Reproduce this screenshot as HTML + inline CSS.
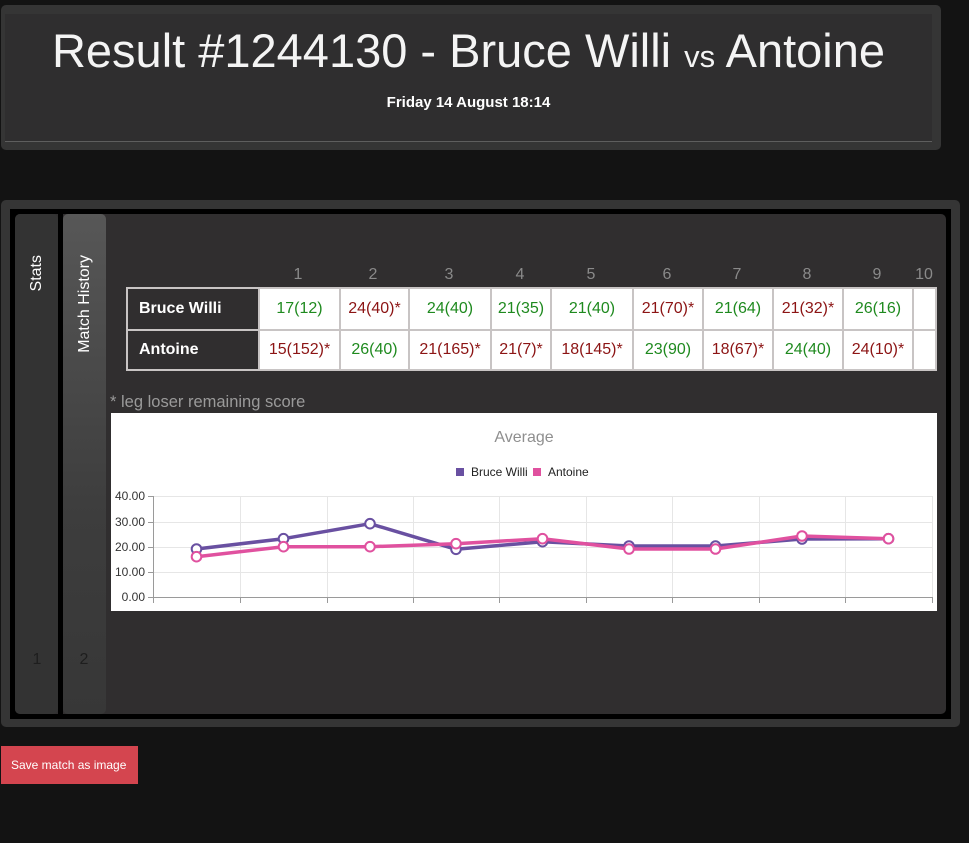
<!DOCTYPE html>
<html><head><meta charset="utf-8">
<style>
html,body{margin:0;padding:0;}
body{width:969px;height:843px;background:#131313;position:relative;overflow:hidden;font-family:"Liberation Sans",Arial,sans-serif;}
.abs{position:absolute;}
.grid{display:grid;grid-template-columns:130px 79px 67px 80px 58px 80px 68px 68px 68px 68px 21px;grid-template-rows:40px 38px;gap:2px;padding:2px;background:#c8c4c4;box-sizing:border-box;}
.grid div{background:#fff;display:flex;align-items:center;justify-content:center;font-size:16px;}
.grid div.n{background:#302e2f;color:#fff;font-weight:bold;justify-content:flex-start;padding-left:11px;}
.g{color:#1f8a1f;}
.r{color:#8c1414;}
.hn{position:absolute;top:266px;width:40px;text-align:center;font-size:16px;line-height:18px;color:#8a8a8a;}
.vt{position:absolute;writing-mode:vertical-rl;transform:rotate(180deg);color:#fff;font-size:16px;line-height:20px;white-space:nowrap;}
</style></head><body>

<!-- top panel -->
<div class="abs" style="left:1px;top:5px;width:940px;height:145px;background:#353535;border-radius:5px;"></div>
<div class="abs" style="left:5px;top:14px;width:927px;height:127px;background:#2f2e2f;"></div>
<div class="abs" style="left:5px;top:141px;width:927px;height:1px;background:#5e5e5e;"></div>
<div class="abs" style="left:1px;top:27px;width:935px;text-align:center;color:#f4f4f4;font-size:47px;line-height:47.5px;white-space:nowrap;">Result #1244130 - Bruce Willi <span style="font-size:31px;">vs</span> Antoine</div>
<div class="abs" style="left:1px;top:95px;width:935px;text-align:center;color:#fff;font-size:15px;line-height:15px;font-weight:bold;">Friday 14 August 18:14</div>

<!-- main panel -->
<div class="abs" style="left:1px;top:200px;width:959px;height:527px;background:#353535;border-radius:5px;"></div>
<div class="abs" style="left:10px;top:209px;width:941px;height:510px;background:#000;"></div>
<div class="abs" style="left:15px;top:214px;width:931px;height:500px;background:#302e2f;border-radius:5px;"></div>
<div class="abs" style="left:15px;top:214px;width:43px;height:500px;background:#333;border-radius:5px 5px 5px 5px;"></div>
<div class="abs" style="left:58px;top:214px;width:5px;height:505px;background:#000;"></div>
<div class="abs" style="left:63px;top:214px;width:43px;height:500px;background:linear-gradient(#575757,#3d3d3d 60%,#373737);border-radius:5px 5px 5px 5px;"></div>
<div class="vt" style="left:27px;top:255px;">Stats</div>
<div class="vt" style="left:75px;top:255px;">Match History</div>
<div class="abs" style="left:27px;top:651px;width:20px;text-align:center;font-size:16px;line-height:18px;color:#1e1e1e;">1</div>
<div class="abs" style="left:74px;top:651px;width:20px;text-align:center;font-size:16px;line-height:18px;color:#1e1e1e;">2</div>

<!-- header numbers -->
<div class="hn" style="left:278px;">1</div>
<div class="hn" style="left:353px;">2</div>
<div class="hn" style="left:429px;">3</div>
<div class="hn" style="left:500px;">4</div>
<div class="hn" style="left:571px;">5</div>
<div class="hn" style="left:647px;">6</div>
<div class="hn" style="left:717px;">7</div>
<div class="hn" style="left:787px;">8</div>
<div class="hn" style="left:857px;">9</div>
<div class="hn" style="left:904px;">10</div>

<!-- table -->
<div class="abs grid" style="left:126px;top:287px;width:811px;height:84px;">
<div class="n">Bruce Willi</div>
<div class="g">17(12)</div>
<div class="r">24(40)*</div>
<div class="g">24(40)</div>
<div class="g">21(35)</div>
<div class="g">21(40)</div>
<div class="r">21(70)*</div>
<div class="g">21(64)</div>
<div class="r">21(32)*</div>
<div class="g">26(16)</div>
<div></div>
<div class="n">Antoine</div>
<div class="r">15(152)*</div>
<div class="g">26(40)</div>
<div class="r">21(165)*</div>
<div class="r">21(7)*</div>
<div class="r">18(145)*</div>
<div class="g">23(90)</div>
<div class="r">18(67)*</div>
<div class="g">24(40)</div>
<div class="r">24(10)*</div>
<div></div>
</div>

<div class="abs" style="left:110px;top:393px;font-size:16.5px;line-height:18px;color:#9a9a9a;white-space:nowrap;">* leg loser remaining score</div>

<!-- chart -->
<svg class="abs" style="left:0;top:0;" width="969" height="843" viewBox="0 0 969 843" font-family="Liberation Sans, Arial, sans-serif">
<rect x="111" y="413" width="826" height="198" fill="#fff"/>
<text x="524" y="442" text-anchor="middle" font-size="16" fill="#8f8f8f">Average</text>
<rect x="456" y="468" width="8" height="8" fill="#6950a1"/>
<text x="471" y="476" font-size="12" fill="#222">Bruce Willi</text>
<rect x="533" y="468" width="8" height="8" fill="#e0519f"/>
<text x="548" y="476" font-size="12" fill="#222">Antoine</text>
<g stroke="#e6e6e6" stroke-width="1">
<line x1="153" y1="496.5" x2="932" y2="496.5"/>
<line x1="153" y1="522.5" x2="932" y2="522.5"/>
<line x1="153" y1="547.5" x2="932" y2="547.5"/>
<line x1="153" y1="572.5" x2="932" y2="572.5"/>
<line x1="240.5" y1="496" x2="240.5" y2="597"/>
<line x1="327.5" y1="496" x2="327.5" y2="597"/>
<line x1="413.5" y1="496" x2="413.5" y2="597"/>
<line x1="499.5" y1="496" x2="499.5" y2="597"/>
<line x1="586.5" y1="496" x2="586.5" y2="597"/>
<line x1="672.5" y1="496" x2="672.5" y2="597"/>
<line x1="759.5" y1="496" x2="759.5" y2="597"/>
<line x1="845.5" y1="496" x2="845.5" y2="597"/>
<line x1="932.5" y1="496" x2="932.5" y2="597"/>
</g>
<g stroke="#9a9a9a" stroke-width="1">
<line x1="153.5" y1="496" x2="153.5" y2="603"/>
<line x1="148" y1="597.5" x2="933" y2="597.5"/>
<line x1="148" y1="496.5" x2="153" y2="496.5"/>
<line x1="148" y1="522.5" x2="153" y2="522.5"/>
<line x1="148" y1="547.5" x2="153" y2="547.5"/>
<line x1="148" y1="572.5" x2="153" y2="572.5"/>
<line x1="240.5" y1="597" x2="240.5" y2="603"/>
<line x1="327.5" y1="597" x2="327.5" y2="603"/>
<line x1="413.5" y1="597" x2="413.5" y2="603"/>
<line x1="499.5" y1="597" x2="499.5" y2="603"/>
<line x1="586.5" y1="597" x2="586.5" y2="603"/>
<line x1="672.5" y1="597" x2="672.5" y2="603"/>
<line x1="759.5" y1="597" x2="759.5" y2="603"/>
<line x1="845.5" y1="597" x2="845.5" y2="603"/>
<line x1="932.5" y1="597" x2="932.5" y2="603"/>
</g>
<g font-size="12" fill="#333" text-anchor="end">
<text x="145" y="500">40.00</text>
<text x="145" y="526">30.00</text>
<text x="145" y="551">20.00</text>
<text x="145" y="576">10.00</text>
<text x="145" y="601">0.00</text>
</g>
<polyline fill="none" stroke="#6950a1" stroke-width="3.5" stroke-linejoin="round" points="196.5,549 283.5,538.7 370,523.7 456,549.3 542.5,541.7 629,546 715.5,546 802,539 888.5,538.7"/>
<g fill="#fff" stroke="#6950a1" stroke-width="2">
<circle cx="196.5" cy="549" r="4.8"/><circle cx="283.5" cy="538.7" r="4.8"/><circle cx="370" cy="523.7" r="4.8"/><circle cx="456" cy="549.3" r="4.8"/><circle cx="542.5" cy="541.7" r="4.8"/><circle cx="629" cy="546" r="4.8"/><circle cx="715.5" cy="546" r="4.8"/><circle cx="802" cy="539" r="4.8"/><circle cx="888.5" cy="538.7" r="4.8"/>
</g>
<polyline fill="none" stroke="#e0519f" stroke-width="3.5" stroke-linejoin="round" points="196.5,556.7 283.5,546.7 370,546.7 456,543.7 542.5,538.7 629,549 715.5,549 802,536 888.5,538.7"/>
<g fill="#fff" stroke="#e0519f" stroke-width="2">
<circle cx="196.5" cy="556.7" r="4.8"/><circle cx="283.5" cy="546.7" r="4.8"/><circle cx="370" cy="546.7" r="4.8"/><circle cx="456" cy="543.7" r="4.8"/><circle cx="542.5" cy="538.7" r="4.8"/><circle cx="629" cy="549" r="4.8"/><circle cx="715.5" cy="549" r="4.8"/><circle cx="802" cy="536" r="4.8"/><circle cx="888.5" cy="538.7" r="4.8"/>
</g>
</svg>

<!-- button -->
<div class="abs" style="left:1px;top:746px;width:137px;height:38px;background:#d4454f;"></div>
<div class="abs" style="left:11px;top:758px;font-size:12px;line-height:14px;color:#fff;white-space:nowrap;">Save match as image</div>

</body></html>
